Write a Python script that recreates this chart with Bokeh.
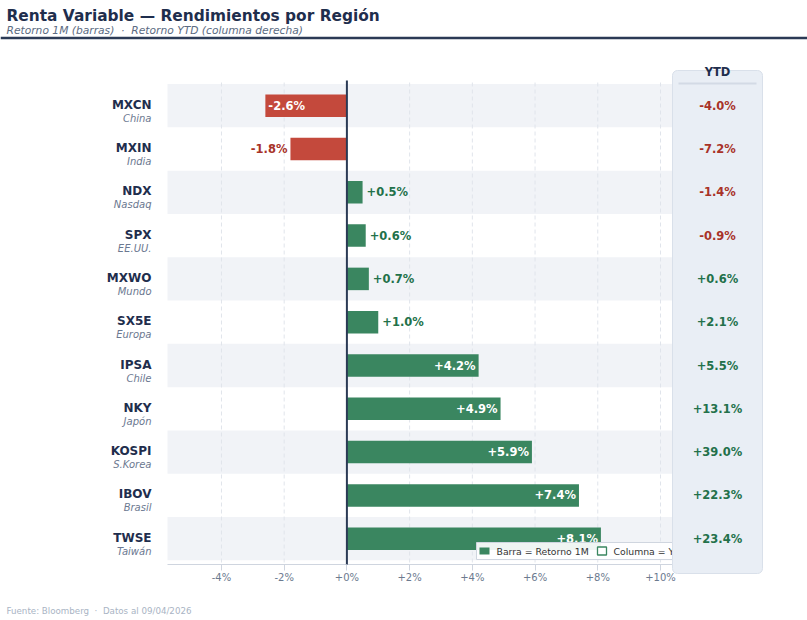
from bokeh.plotting import figure
from bokeh.models import Range1d, FixedTicker, Span
from bokeh.core.properties import value
from bokeh.embed import file_html
from bokeh.resources import INLINE

# ---------------- data ----------------
tickers = ["MXCN", "MXIN", "NDX", "SPX", "MXWO", "SX5E", "IPSA", "NKY", "KOSPI", "IBOV", "TWSE"]
regions = ["China", "India", "Nasdaq", "EE.UU.", "Mundo", "Europa", "Chile", "Japón", "S.Korea", "Brasil", "Taiwán"]
ret_1m = [-2.6, -1.8, 0.5, 0.6, 0.7, 1.0, 4.2, 4.9, 5.9, 7.4, 8.1]
ret_ytd = [-4.0, -7.2, -1.4, -0.9, 0.6, 2.1, 5.5, 13.1, 39.0, 22.3, 23.4]
x_ticks = [-4, -2, 0, 2, 4, 6, 8, 10]

NB = "\u00a0"
title_text = "Renta Variable — Rendimientos por Región"
subtitle_text = f"Retorno 1M (barras){NB}{NB}·{NB}{NB}Retorno YTD (columna derecha)"
footer_text = f"Fuente: Bloomberg{NB}{NB}·{NB}{NB}Datos al 09/04/2026"
legend_labels = ["Barra = Retorno 1M", "Columna = YTD"]

# ---------------- style ----------------
FONT = "DejaVu Sans"
NAVY = "#1f2e4d"
RULE = "#2b3a55"
RED_BAR = "#c4493c"
GREEN_BAR = "#3a8660"
RED_TXT = "#a83228"
GREEN_TXT = "#23714a"
BAND = "#f1f3f7"
GRID = "#e0e4eb"
AXIS = "#cfd5df"
TICK_TXT = "#6c7a8f"
REGION_TXT = "#6b7890"
PANEL = "#e9eef5"
PANEL_EDGE = "#d9e0ea"
FOOT = "#a9b4c4"

# layout calibration (page pixels -> data units)
X0_PX, X_UNIT = 346.4, 31.36
Y0_PX, Y_UNIT = 538.2, 43.3


def dx(px):
    return (px - X0_PX) / X_UNIT


def dy(py):
    return (Y0_PX - py) / Y_UNIT


n = len(tickers)
rows = [n - 1 - i for i in range(n)]

p = figure(width=807, height=620, output_backend="svg", toolbar_location=None,
           x_range=Range1d(dx(0), dx(807)), y_range=Range1d(dy(570), dy(0)),
           y_axis_location=None, min_border_left=0, min_border_right=0,
           min_border_top=0, min_border_bottom=50)
p.xgrid.visible = False
p.ygrid.visible = False
p.outline_line_color = None
p.background_fill_color = "white"
p.border_fill_color = "white"

# header
p.text(x=[dx(6)], y=[dy(15)], text=[title_text], text_font=value(FONT), text_font_style="bold",
       text_font_size="15.4px", text_color=NAVY, text_align="left", text_baseline="middle")
p.text(x=[dx(6)], y=[dy(29.5)], text=[subtitle_text], text_font=value(FONT), text_font_style="italic",
       text_font_size="10.7px", text_color="#5b6b82", text_align="left", text_baseline="middle")
p.add_layout(Span(location=dy(37.5), dimension="width", line_color=RULE, line_width=2.5))

# alternating row bands
band_rows = rows[::2]
p.quad(left=dx(167), right=dx(700), top=[r + 0.5 for r in band_rows], bottom=[r - 0.5 for r in band_rows],
       fill_color=BAND, line_color=None)

# vertical grid
grid_x = [t for t in x_ticks if t != 0]
p.segment(x0=grid_x, y0=dy(82), x1=grid_x, y1=dy(564), line_color=GRID, line_width=1, line_dash="4 3")

# axis base line
p.segment(x0=dx(167), y0=dy(564), x1=dx(700), y1=dy(564), line_color=AXIS, line_width=1.2)

# bars
bar_colors = [GREEN_BAR if v >= 0 else RED_BAR for v in ret_1m]
p.hbar(y=rows, left=0, right=ret_1m, height=0.52, fill_color=bar_colors, line_color=None)

# zero line
p.segment(x0=0, y0=dy(80), x1=0, y1=dy(564), line_color=RULE, line_width=2)

# bar value labels
lab_text = [f"{v:+.1f}%" for v in ret_1m]
lab_align, lab_off, lab_col = [], [], []
for v in ret_1m:
    if abs(v) >= 2:
        lab_align.append("right" if v >= 0 else "left")
        lab_off.append(-3 if v >= 0 else 3)
        lab_col.append("white")
    else:
        lab_align.append("left" if v >= 0 else "right")
        lab_off.append(4 if v >= 0 else -3)
        lab_col.append(GREEN_TXT if v >= 0 else RED_TXT)
p.text(x=ret_1m, y=rows, text=lab_text, x_offset=lab_off, text_align=lab_align, text_color=lab_col,
       text_font=value(FONT), text_font_style="bold", text_font_size="11.5px", text_baseline="middle")

# row labels
p.text(x=[dx(151)] * n, y=rows, text=tickers, y_offset=-1, text_align="right", text_baseline="middle",
       text_font=value(FONT), text_font_style="bold", text_font_size="12px", text_color=NAVY)
p.text(x=[dx(151)] * n, y=rows, text=regions, y_offset=12.5, text_align="right", text_baseline="middle",
       text_font=value(FONT), text_font_style="italic", text_font_size="10px", text_color=REGION_TXT)

# legend (drawn below the YTD panel, which overlaps it as in the reference)
p.quad(left=dx(476), right=dx(700), top=dy(542), bottom=dy(559), fill_color="white", fill_alpha=0.92,
       line_color=AXIS, line_width=1)
p.quad(left=dx(479), right=dx(489), top=dy(547), bottom=dy(554), fill_color=GREEN_BAR, line_color=None)
p.quad(left=dx(597), right=dx(606), top=dy(546.5), bottom=dy(554.5), fill_color="white",
       line_color=GREEN_BAR, line_width=1.3)
p.text(x=[dx(496), dx(613)], y=[dy(551)] * 2, text=legend_labels, text_align="left", text_baseline="middle",
       text_font=value(FONT), text_font_size="9.3px", text_color="#333333")

# YTD column panel
p.quad(left=dx(672), right=dx(762), top=dy(70), bottom=dy(573), fill_color=PANEL,
       line_color=PANEL_EDGE, line_width=1, border_radius=5, level="overlay")
p.segment(x0=dx(678), y0=dy(83), x1=dx(756), y1=dy(83), line_color="#d3dae5", line_width=2, level="overlay")
p.text(x=[dx(717)], y=[dy(71)], text=["YTD"], text_align="center", text_baseline="middle",
       text_font=value(FONT), text_font_style="bold", text_font_size="11.5px", text_color=NAVY, level="overlay")
ytd_col = [GREEN_TXT if v >= 0 else RED_TXT for v in ret_ytd]
p.text(x=[dx(717)] * n, y=rows, text=[f"{v:+.1f}%" for v in ret_ytd], text_align="center",
       text_baseline="middle", text_font=value(FONT), text_font_style="bold", text_font_size="11.5px",
       text_color=ytd_col, level="overlay")

# footer (overlay level, below the frame)
p.text(x=[dx(6)], y=[dy(610)], text=[footer_text], text_align="left", text_baseline="middle",
       text_font=value(FONT), text_font_size="8.7px", text_color=FOOT, level="overlay")

# x axis
p.xaxis.ticker = FixedTicker(ticks=x_ticks)
p.xaxis.major_label_overrides = {t: f"{t:+d}%" for t in x_ticks}
p.xaxis.axis_line_color = None
p.xaxis.major_tick_in = 6
p.xaxis.major_tick_out = 0
p.xaxis.major_tick_line_color = AXIS
p.xaxis.minor_tick_line_color = None
p.xaxis.major_label_standoff = 1
p.xaxis.major_label_text_font = FONT
p.xaxis.major_label_text_font_size = "10px"
p.xaxis.major_label_text_color = TICK_TXT

open("out.html", "w").write(file_html(p, INLINE))
